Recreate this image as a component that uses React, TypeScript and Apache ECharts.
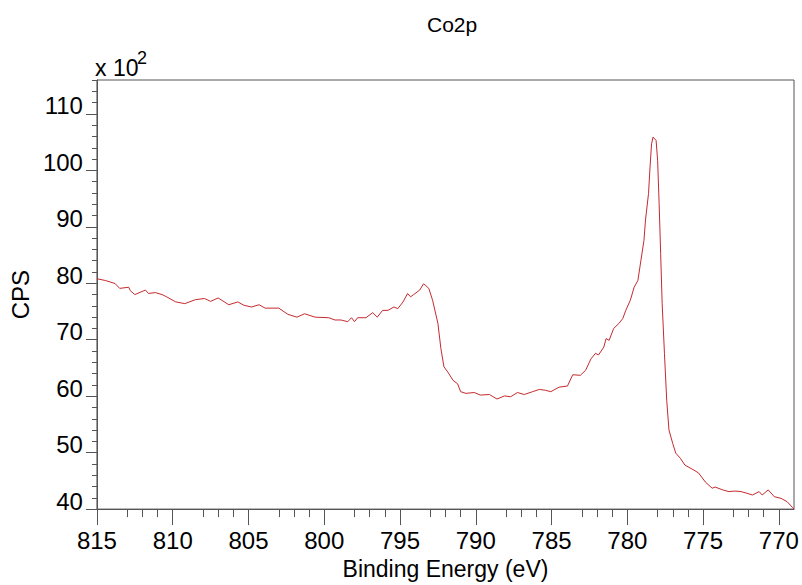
import React, { useEffect, useRef } from "react";
import * as echarts from "echarts";

// Binding energy (eV), descending
const energies = [
  815.0, 814.45, 813.8, 813.5, 812.9, 812.8, 812.5, 811.8, 811.6, 811.15, 810.7, 810.4,
  809.8, 809.2, 808.5, 807.9, 807.5, 807.0, 806.3, 805.7, 805.3, 804.8, 804.3, 803.9,
  803.0, 802.4, 801.8, 801.3, 800.6, 799.7, 799.3, 798.9, 798.45, 798.2, 798.0, 797.8,
  797.25, 796.8, 796.5, 796.15, 795.8, 795.4, 795.15, 794.8, 794.5, 794.3, 794.1, 793.7,
  793.45, 793.3, 793.1, 792.85, 792.5, 792.3, 792.1, 791.85, 791.5, 791.2, 791.0, 790.65,
  790.1, 789.7, 789.1, 788.6, 788.1, 787.7, 787.25, 786.8, 786.25, 785.8, 785.4, 785.05,
  784.5, 783.95, 783.6, 783.1, 782.75, 782.4, 782.1, 781.9, 781.55, 781.4, 781.2, 780.9,
  780.55, 780.3, 780.1, 779.8, 779.55, 779.3, 779.1, 778.9, 778.8, 778.6, 778.5, 778.4,
  778.3, 778.1, 778.0, 777.9, 777.8, 777.7, 777.55, 777.4, 777.25, 777.0, 776.8, 776.5,
  776.2, 775.6, 775.3, 774.85, 774.4, 774.2, 773.7, 773.3, 772.9, 772.5, 772.1, 771.75,
  771.3, 771.1, 770.7, 770.3, 769.85, 769.45, 769.1, 769.0,
];

// CPS (x 10^2)
const cps = [
  80.8, 80.5, 79.95, 79.1, 79.3, 78.7, 78.0, 78.8, 78.2, 78.35, 78.0, 77.6,
  76.7, 76.4, 77.1, 77.3, 76.8, 77.4, 76.2, 76.7, 76.1, 75.8, 76.2, 75.6,
  75.6, 74.5, 74.0, 74.6, 74.0, 73.9, 73.5, 73.5, 73.2, 73.9, 73.2, 73.9,
  73.9, 74.8, 74.0, 75.2, 75.2, 75.8, 75.5, 76.7, 78.2, 77.6, 78.0, 78.8,
  79.9, 79.6, 79.1, 77.0, 72.9, 68.4, 65.2, 64.3, 62.8, 62.2, 60.8, 60.5,
  60.65, 60.2, 60.3, 59.5, 60.05, 59.9, 60.65, 60.3, 60.8, 61.2, 61.05, 60.8,
  61.6, 61.8, 63.8, 63.7, 64.6, 66.6, 67.6, 67.3, 68.7, 70.2, 69.9, 72.0,
  72.9, 73.75, 75.2, 77.0, 79.3, 80.5, 84.1, 87.6, 91.2, 95.9, 100.6, 104.7,
  105.9, 105.3, 101.8, 94.1, 85.3, 76.4, 67.6, 59.3, 54.0, 51.6, 49.9, 49.0,
  47.8, 46.9, 46.4, 44.8, 43.7, 43.9, 43.4, 43.1, 43.2, 43.1, 42.8, 42.5,
  43.1, 42.5, 43.4, 42.2, 41.9, 41.3, 40.3, 40.0,
];

const xTickLabels = [815, 810, 805, 800, 795, 790, 785, 780, 775, 770];
const yTickLabels = [40, 50, 60, 70, 80, 90, 100, 110];

const FONT = "'Liberation Sans', Arial, sans-serif";
const AXIS_COLOR = "#555";

export default function App() {
  const ref = useRef<HTMLDivElement>(null);

  useEffect(() => {
    if (!ref.current) return;
    const chart = echarts.init(ref.current, null, { renderer: "svg" });
    const data = energies.map((e, i) => [e, cps[i]]);
    chart.setOption({
      animation: false,
      backgroundColor: "#ffffff",
      textStyle: { fontFamily: FONT },
      title: {
        text: "Co2p",
        left: 422,
        top: 9,
        textStyle: { fontFamily: FONT, fontSize: 21, fontWeight: "normal", color: "#000" },
      },
      graphic: [
        {
          type: "text",
          left: 95,
          top: 56,
          style: { text: "x 10", font: `23px ${FONT}`, fill: "#000" },
        },
        {
          type: "text",
          left: 137,
          top: 49,
          style: { text: "2", font: `18px ${FONT}`, fill: "#000" },
        },
      ],
      grid: {
        left: 96,
        right: 8,
        top: 80,
        bottom: 75,
        show: true,
        borderColor: AXIS_COLOR,
        borderWidth: 1,
        backgroundColor: "transparent",
      },
      xAxis: {
        type: "value",
        min: 769,
        max: 815,
        interval: 5,
        inverse: true,
        name: "Binding Energy (eV)",
        nameLocation: "middle",
        nameGap: 46,
        nameTextStyle: { fontFamily: FONT, fontSize: 23, color: "#000" },
        axisLine: { show: true, lineStyle: { color: AXIS_COLOR, width: 1 } },
        axisTick: {
          show: true,
          length: 16,
          customValues: xTickLabels,
          lineStyle: { color: AXIS_COLOR, width: 1 },
        },
        minorTick: { show: true, splitNumber: 5, length: 8, lineStyle: { color: AXIS_COLOR, width: 1 } },
        axisLabel: {
          customValues: xTickLabels,
          fontFamily: FONT,
          fontSize: 24,
          margin: 19,
          color: "#000",
        },
        splitLine: { show: false },
      },
      yAxis: {
        type: "value",
        min: 40,
        max: 116.01,
        interval: 10,
        name: "CPS",
        nameLocation: "middle",
        nameGap: 55,
        nameTextStyle: { fontFamily: FONT, fontSize: 24, color: "#000" },
        axisLine: { show: true, lineStyle: { color: AXIS_COLOR, width: 1 } },
        axisTick: {
          show: true,
          length: 11,
          customValues: yTickLabels,
          lineStyle: { color: AXIS_COLOR, width: 1 },
        },
        minorTick: { show: true, splitNumber: 5, length: 5, lineStyle: { color: AXIS_COLOR, width: 1 } },
        axisLabel: {
          customValues: yTickLabels,
          fontFamily: FONT,
          fontSize: 24,
          margin: 14,
          color: "#000",
          verticalAlign: "bottom",
          lineHeight: 16,
        },
        splitLine: { show: false },
      },
      series: [
        {
          type: "line",
          data,
          showSymbol: false,
          symbol: "none",
          lineStyle: { color: "#c42a2e", width: 1 },
          itemStyle: { color: "#c42a2e" },
        },
      ],
    });
    return () => chart.dispose();
  }, []);

  return (
    <div
      ref={ref}
      style={{ position: "fixed", left: 0, top: 0, width: 802, height: 585, background: "#fff" }}
    />
  );
}
